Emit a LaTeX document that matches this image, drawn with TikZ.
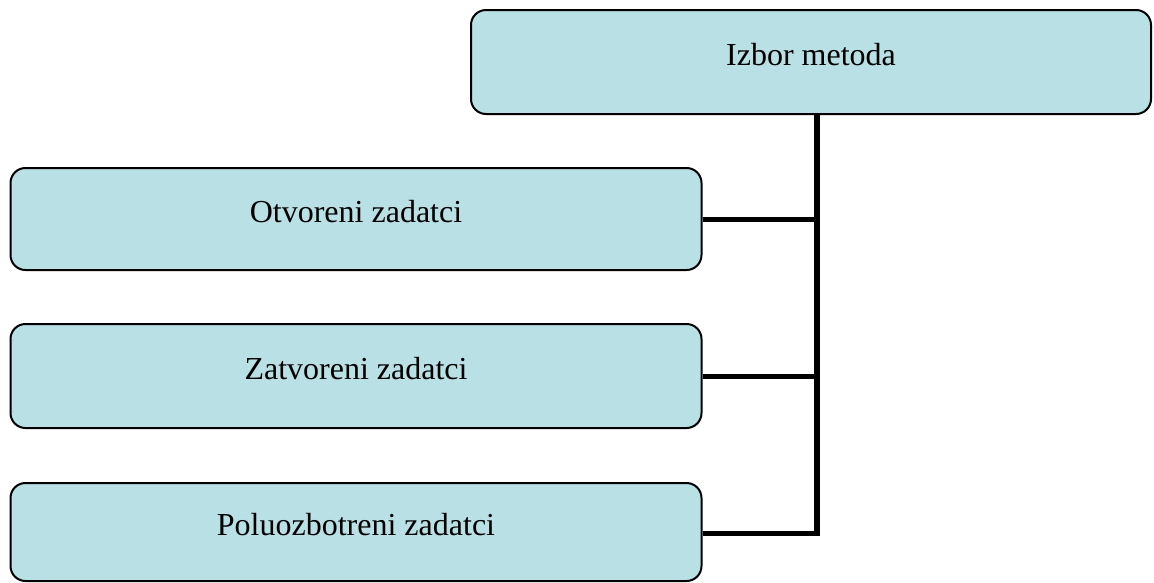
\documentclass[tikz,border=0pt]{standalone}
\usepackage{fontspec}
\setmainfont{Liberation Serif}
\definecolor{boxfill}{RGB}{185,224,228}
\begin{document}
\begin{tikzpicture}[x=1pt,y=-1pt,
  card/.style={draw=black, line width=2pt, fill=boxfill, rounded corners=15pt,
    font=\fontsize{32}{38}\selectfont, text height=22pt, text depth=15pt},
  wire/.style={line width=5pt, line join=miter}]
\useasboundingbox (0,0) rectangle (1154,582);
% boxes
\node[card, minimum width=680pt, minimum height=104pt] (top) at (811,62) {Izbor metoda};
\node[card, minimum width=691pt, minimum height=102pt] (otv) at (356,219) {Otvoreni zadatci};
\node[card, minimum width=691pt, minimum height=104pt] (zat) at (356,376) {Zatvoreni zadatci};
\node[card, minimum width=691pt, minimum height=98pt] (pol) at (356,532) {Poluozbotreni zadatci};
% bus line
\coordinate (bustop) at (817,114);
\coordinate (busbot) at (817,533);
\draw[wire, line width=6pt] (bustop) -- (busbot);
\draw[wire] (busbot) ++(3pt,0) -- (pol.east |- busbot);
\draw[wire] (otv.east) -- (otv.east -| bustop);
\draw[wire] (zat.east) -- (zat.east -| bustop);
\end{tikzpicture}
\end{document}
